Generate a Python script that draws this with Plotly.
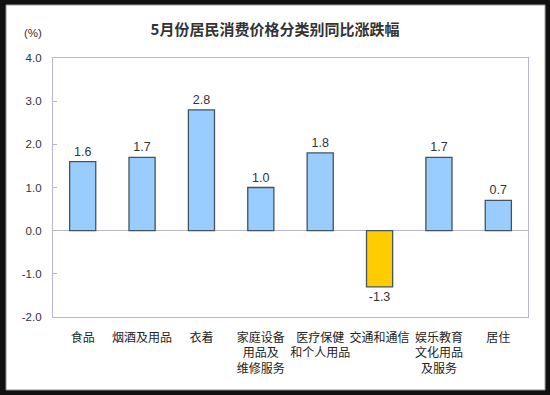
import plotly.graph_objects as go

categories = ["食品", "烟酒及用品", "衣着", "家庭设备<br>用品及<br>维修服务", "医疗保健<br>和个人用品",
              "交通和通信", "娱乐教育<br>文化用品<br>及服务", "居住"]
values = [1.6, 1.7, 2.8, 1.0, 1.8, -1.3, 1.7, 0.7]
labels = ["1.6", "1.7", "2.8", "1.0", "1.8", "-1.3", "1.7", "0.7"]
tick_vals = [4, 3, 2, 1, 0, -1, -2]
tick_text = ["4.0", "3.0", "2.0", "1.0", "0.0", "-1.0", "-2.0"]

colors = ["#ffcc00" if v < 0 else "#99ccff" for v in values]
x_idx = list(range(len(categories)))

fig = go.Figure()
fig.add_trace(go.Bar(
    x=x_idx, y=values, width=0.44,
    marker=dict(color=colors, line=dict(color="#44545c", width=1.3)),
    text=labels, textposition="outside", cliponaxis=False,
    textfont=dict(family="Liberation Sans, Arial", size=12.5, color="#333333"),
    hoverinfo="skip",
))

fig.update_layout(
    width=550, height=395,
    margin=dict(l=53, r=22, t=58, b=78, autoexpand=False),
    paper_bgcolor="#111111", plot_bgcolor="white",
    showlegend=False,
    font=dict(family="Noto Sans CJK SC", color="#222222"),
    title=dict(text="5月份居民消费价格分类别同比涨跌幅", x=0.5, xanchor="center", y=0.924, yanchor="middle",
               font=dict(family="Noto Sans CJK SC", size=15, color="#333333", weight="bold")),
    shapes=[
        dict(type="rect", xref="paper", yref="paper", x0=-0.099, x1=1.036, y0=-0.282, y1=1.205,
             fillcolor="white", line=dict(color="#888888", width=1), layer="below"),
    ],
    annotations=[
        dict(text="(%)", xref="paper", yref="paper", x=-0.018, y=1.097, xanchor="right", yanchor="middle",
             showarrow=False, font=dict(family="Liberation Sans, Arial", size=11.5, color="#333333")),
    ],
    xaxis=dict(
        tickmode="array", tickvals=x_idx, ticktext=categories, range=[-0.5, 7.5],
        showline=True, mirror=True, linecolor="#b8b4d8", linewidth=1.2,
        showgrid=False, zeroline=False, ticks="", ticklabelstandoff=9,
        tickangle=0, automargin=False,
        tickfont=dict(family="Noto Sans CJK SC", size=12, color="#222222"),
    ),
    yaxis=dict(
        range=[-2, 4], tickmode="array", tickvals=tick_vals, ticktext=tick_text,
        showline=True, mirror=True, linecolor="#b8b4d8", linewidth=1.2,
        showgrid=False, zeroline=True, zerolinecolor="#b8b4d8", zerolinewidth=1.2,
        ticks="inside", ticklen=4, tickcolor="#b8b4d8", ticklabelstandoff=8,
        automargin=False,
        tickfont=dict(family="Liberation Sans, Arial", size=11.5, color="#333333"),
    ),
)

fig.write_html("out.html", config={"displayModeBar": False},
               post_script="document.body.style.margin='0';document.body.style.background='#111111';document.body.style.overflow='hidden';")
